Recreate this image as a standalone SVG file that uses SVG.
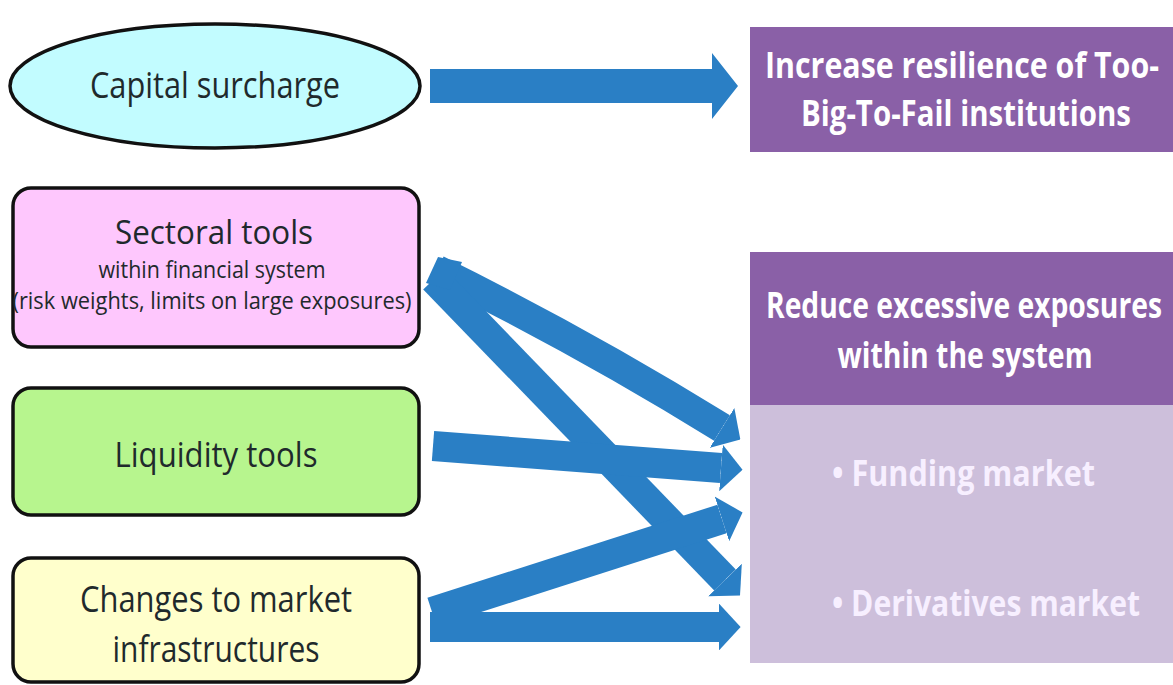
<svg xmlns="http://www.w3.org/2000/svg" width="1173" height="685" viewBox="0 0 1173 685">
<defs>
<style>
.src{stroke:#111;stroke-width:3.5}
.lbl{font-family:"Open Sans","Noto Sans","DejaVu Sans",sans-serif;fill:#1f2a2c;text-anchor:middle}
.tgt{font-family:"Open Sans","Noto Sans","DejaVu Sans",sans-serif;font-weight:bold;fill:#ffffff;text-anchor:middle}
.sub{font-family:"Open Sans","Noto Sans","DejaVu Sans",sans-serif;font-weight:bold;fill:#f7efff;text-anchor:start}
.arr{fill:none;stroke:#2a7fc5;stroke-width:30;stroke-linecap:butt;marker-end:url(#head)}
</style>
<marker id="head" markerUnits="strokeWidth" markerWidth="0.72" markerHeight="1.56" viewBox="0 0 7.2 15.6" refX="0" refY="7.8" orient="auto">
<path d="M0,0 L7.2,7.8 L0,15.6 z" fill="#2a7fc5"/>
</marker>
</defs>
<rect width="1173" height="685" fill="#ffffff"/>

<g id="connectors">
<polygon points="430,69 712,69 712,53 738,86 712,119 712,103 430,103" fill="#2a7fc5"/>
<path class="arr" d="M437,270 Q585,343 722,428"/>
<path class="arr" d="M434,279 L725,580"/>
<polygon points="438,257 426,283 450,290 462,262" fill="#2a7fc5"/>
<path class="arr" d="M433,446 L721,468"/>
<path class="arr" d="M432,612 L722,519"/>
<path class="arr" d="M430,627 L719,627"/>
</g>

<g id="capital-surcharge">
<ellipse class="src" cx="215" cy="86" rx="205" ry="62" fill="#c2fcff"/>
<text class="lbl" x="215" y="98" font-size="37" textLength="250" lengthAdjust="spacingAndGlyphs">Capital surcharge</text>
</g>

<g id="sectoral-tools">
<rect class="src" x="13" y="188" width="406" height="159" rx="18" fill="#fec7fd"/>
<text class="lbl" x="214" y="244" font-size="32" textLength="198" lengthAdjust="spacingAndGlyphs">Sectoral tools</text>
<text class="lbl" x="212" y="278" font-size="23" textLength="227" lengthAdjust="spacingAndGlyphs">within financial system</text>
<text class="lbl" x="212" y="309" font-size="24" textLength="399" lengthAdjust="spacingAndGlyphs">(risk weights, limits on large exposures)</text>
</g>

<g id="liquidity-tools">
<rect class="src" x="13" y="388" width="406" height="127" rx="18" fill="#b7f58e"/>
<text class="lbl" x="216" y="467" font-size="34" textLength="203" lengthAdjust="spacingAndGlyphs">Liquidity tools</text>
</g>

<g id="market-infrastructures">
<rect class="src" x="13" y="558" width="406" height="124" rx="18" fill="#ffffcc"/>
<text class="lbl" x="216" y="612" font-size="37" textLength="272" lengthAdjust="spacingAndGlyphs">Changes to market</text>
<text class="lbl" x="216" y="662" font-size="37" textLength="207" lengthAdjust="spacingAndGlyphs">infrastructures</text>
</g>

<g id="too-big-to-fail">
<rect x="750" y="27" width="423" height="125" fill="#8a60a7"/>
<text class="tgt" x="962" y="78" font-size="36" textLength="394" lengthAdjust="spacingAndGlyphs">Increase resilience of Too-</text>
<text class="tgt" x="966" y="126" font-size="36" textLength="330" lengthAdjust="spacingAndGlyphs">Big-To-Fail institutions</text>
</g>

<g id="reduce-exposures">
<rect x="750" y="252" width="423" height="153" fill="#8a60a7"/>
<rect x="750" y="405" width="423" height="258" fill="#cdbfdb"/>
<text class="tgt" x="964" y="318" font-size="36" textLength="396" lengthAdjust="spacingAndGlyphs">Reduce excessive exposures</text>
<text class="tgt" x="965" y="368" font-size="36" textLength="255" lengthAdjust="spacingAndGlyphs">within the system</text>
<text class="sub" x="832" y="486" font-size="36" textLength="263" lengthAdjust="spacingAndGlyphs">• Funding market</text>
<text class="sub" x="832" y="616" font-size="36" textLength="308" lengthAdjust="spacingAndGlyphs">• Derivatives market</text>
</g>
</svg>
